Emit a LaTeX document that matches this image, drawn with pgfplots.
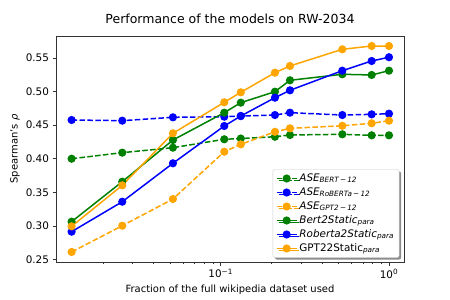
\documentclass[border=0pt]{standalone}
\usepackage{pgfplots}
\pgfplotsset{compat=1.18}
\usepackage{fontspec}
\setmainfont{DejaVu Sans}
\usetikzlibrary{shadows}
\definecolor{mgreen}{HTML}{008000}
\definecolor{mblue}{HTML}{0000FF}
\definecolor{morange}{HTML}{FFA500}
\definecolor{spine}{HTML}{333333}
\newcommand{\sub}[1]{\textsubscript{\itshape #1}}
\begin{document}
\begin{tikzpicture}
\useasboundingbox (-56bp,-38bp) rectangle (394bp,262bp);
\begin{axis}[
  scale only axis, width=348bp, height=226bp,
  xmode=log, xmin=0.0105, xmax=1.228, ymin=0.2463, ymax=0.5826,
  xtick={0.1,1}, xticklabels={10\textsuperscript{−1},10\textsuperscript{0}},
  minor xtick={0.02,0.03,0.04,0.05,0.06,0.07,0.08,0.09,0.2,0.3,0.4,0.5,0.6,0.7,0.8,0.9},
  ytick={0.25,0.30,0.35,0.40,0.45,0.50,0.55},
  yticklabel style={/pgf/number format/.cd, fixed, fixed zerofill, precision=2, assume math mode=true},
  tick label style={font=\fontsize{10.4bp}{12bp}\selectfont, black},
  tick align=outside, tick pos=left,
  major tick length=3.5bp, minor tick length=2bp,
  tick style={spine, line width=0.8bp},
  axis line style={spine, line width=0.8bp},
  title={Performance of the models on RW-2034},
  title style={font=\fontsize{12.5bp}{14bp}\selectfont, at={(axis description cs:0.5,1.027)}, anchor=base, inner sep=0pt},
  xlabel={Fraction of the full wikipedia dataset used},
  ylabel={Spearman's \textit{ρ}},
  label style={font=\fontsize{10.4bp}{12bp}\selectfont},
  every axis x label/.style={at={(axis description cs:0.5,-0.124)}, anchor=center},
  every axis y label/.style={at={(axis description cs:-0.118,0.5)}, rotate=90, anchor=center},
  legend style={at={(axis description cs:0.9865,0.019)}, anchor=south east,
    draw=black!20, rounded corners=2bp, fill=white,
    drop shadow={shadow xshift=2bp, shadow yshift=-2bp, fill=black!45, opacity=1},
    font=\fontsize{10.4bp}{12bp}\selectfont,
    inner xsep=3bp, inner ysep=2bp, row sep=0pt,
    nodes={text height=8bp, text depth=3bp, inner ysep=1.5bp}},
  legend cell align=left,
  legend image code/.code={\draw[mark repeat=2,mark phase=2] plot coordinates {(0bp,0bp) (10bp,0bp) (20bp,0bp)};},
  every axis plot/.append style={line width=1.5bp, mark=*, mark size=3.3bp},
]
\addplot[mgreen, dash pattern=on 5.5bp off 2.4bp, mark options={solid}] coordinates {
(0.013,0.400) (0.026,0.409) (0.052,0.4164) (0.105,0.4289) (0.1316,0.430) (0.21,0.4327) (0.258,0.4353) (0.528,0.4363) (0.789,0.4348) (1.0,0.4348)};
\addlegendentry{\textit{ASE}\sub{BERT\,−\,12}}
\addplot[mblue, dash pattern=on 5.5bp off 2.4bp, mark options={solid}] coordinates {
(0.013,0.4576) (0.026,0.4566) (0.052,0.4616) (0.105,0.4625) (0.1316,0.4635) (0.21,0.465) (0.258,0.4685) (0.528,0.465) (0.789,0.466) (1.0,0.467)};
\addlegendentry{\textit{ASE}\sub{RoBERTa\,−\,12}}
\addplot[morange, dash pattern=on 5.5bp off 2.4bp, mark options={solid}] coordinates {
(0.013,0.2612) (0.026,0.3003) (0.052,0.340) (0.105,0.4104) (0.1316,0.4214) (0.21,0.440) (0.258,0.4452) (0.528,0.449) (0.789,0.4527) (1.0,0.4565)};
\addlegendentry{\textit{ASE}\sub{GPT2\,−\,12}}
\addplot[mgreen] coordinates {
(0.013,0.3063) (0.026,0.3658) (0.052,0.4278) (0.105,0.4685) (0.1316,0.4834) (0.21,0.4997) (0.258,0.5167) (0.528,0.5256) (0.789,0.5246) (1.0,0.531)};
\addlegendentry{\textit{Bert2Static}\sub{para}}
\addplot[mblue] coordinates {
(0.013,0.2914) (0.026,0.336) (0.052,0.3932) (0.105,0.4487) (0.1316,0.4635) (0.21,0.4908) (0.258,0.5018) (0.528,0.531) (0.789,0.5454) (1.0,0.551)};
\addlegendentry{\textit{Roberta2Static}\sub{para}}
\addplot[morange] coordinates {
(0.013,0.2994) (0.026,0.3604) (0.052,0.4378) (0.105,0.4839) (0.1316,0.4988) (0.21,0.528) (0.258,0.538) (0.528,0.5628) (0.789,0.5677) (1.0,0.5677)};
\addlegendentry{GPT22Static\sub{para}}
\end{axis}
\end{tikzpicture}
\end{document}
